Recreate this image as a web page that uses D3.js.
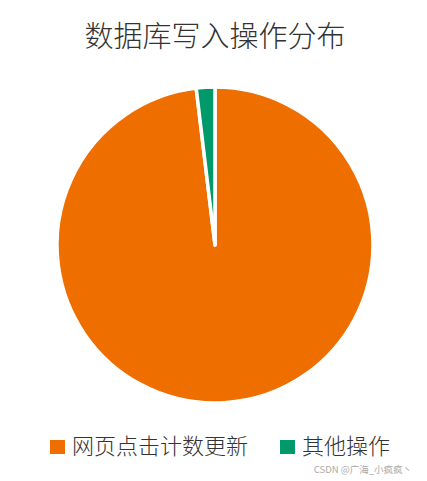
<!DOCTYPE html>
<meta charset="utf-8">
<body>
<script src="https://cdn.jsdelivr.net/npm/d3@7"></script>
<style>
    html, body {
        margin: 0;
        background: #fff;
    }
    text {
        font-family: "Noto Sans CJK SC", "Noto Sans", sans-serif;
    }
</style>
<script>
var categories = ["网页点击计数更新", "其他操作"],
    values = [98.1, 1.9],
    colors = ["#ef6e00", "#009a6a"],
    title = "数据库写入操作分布";

var width = 427,
    height = 481,
    cx = 215,
    cy = 245,
    radius = 158;

var svg = d3.select("body").append("svg")
    .attr("width", width)
    .attr("height", height);

svg.append("text")
    .attr("x", 215)
    .attr("y", 47)
    .attr("text-anchor", "middle")
    .attr("font-size", 29)
    .attr("font-weight", 300)
    .attr("fill", "#333")
    .text(title);

var data = categories.map(function(c, i) { return {name: c, value: values[i], color: colors[i]}; });

var pie = d3.pie()
    .sort(null)
    .value(function(d) { return d.value; });

var arc = d3.arc()
    .innerRadius(0)
    .outerRadius(radius);

var g = svg.append("g")
    .attr("transform", "translate(" + [cx, cy] + ")");

g.selectAll("path")
    .data(pie(data))
    .enter().append("path")
    .attr("d", arc)
    .attr("fill", function(d) { return d.data.color; })
    .attr("stroke", "#fff")
    .attr("stroke-width", 3.5)
    .attr("stroke-linejoin", "round");

// legend
var legendX = [50, 280];
var legend = svg.selectAll(".legend")
    .data(data)
    .enter().append("g")
    .attr("class", "legend")
    .attr("transform", function(d, i) { return "translate(" + legendX[i] + ",440)"; });

legend.append("rect")
    .attr("width", 15)
    .attr("height", 14)
    .attr("fill", function(d) { return d.color; });

legend.append("text")
    .attr("x", 22)
    .attr("y", 14)
    .attr("font-size", 22)
    .attr("font-weight", 300)
    .attr("fill", "#333")
    .text(function(d) { return d.name; });

svg.append("text")
    .attr("x", 412)
    .attr("y", 473)
    .attr("text-anchor", "end")
    .attr("font-size", 9.5)
    .attr("fill", "#aaa")
    .text("CSDN @广海_小疯疯丶");
</script>
